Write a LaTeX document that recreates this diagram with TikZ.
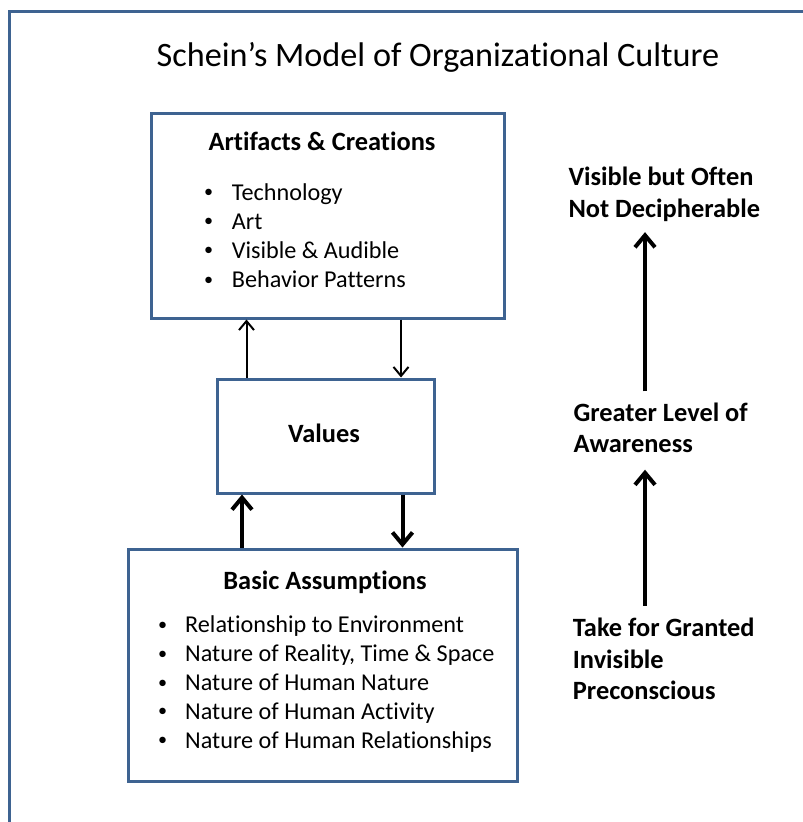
\documentclass[tikz,border=0pt]{standalone}
\usepackage{fontspec}
\setmainfont{Carlito}[Ligatures=NoCommon]
\usetikzlibrary{positioning, arrows.meta, calc}
\definecolor{frameblue}{HTML}{3E6391}
\newcommand{\dotmark}{\raisebox{2.5pt}{\scalebox{0.75}{\textbullet}}}

\begin{document}
\begin{tikzpicture}[x=1pt, y=-1pt,
    layer/.style={draw=frameblue, line width=3pt, fill=white, inner sep=0pt},
    head/.style={font=\fontsize{26.4}{30}\selectfont\bfseries, anchor=base},
    item/.style={font=\fontsize{24.2}{29}\selectfont, anchor=base west, inner sep=0pt},
    side/.style={font=\fontsize{26.4}{31.5}\selectfont\bfseries, align=left, anchor=base west, inner sep=0pt},
    link/.style={-{Straight Barb[length=9pt, width=15pt]}, line width=2pt},
    biglink/.style={-{Straight Barb[length=12pt, width=20pt]}, line width=4pt}]
  \useasboundingbox (0,0) rectangle (803,822);
  % page frame, open to the right and bottom
  \draw[frameblue, line width=3pt] (9,830) -- (9,11) -- (810,11);
  \node[font=\fontsize{34.2}{40}\selectfont, anchor=base] (title) at (438,66.7)
    {Schein's Model of Organizational Culture};

  % the three layers
  \node[layer, minimum width=353pt, minimum height=205pt] (art) at (327.5,215.5) {};
  \node[layer, minimum width=217pt, minimum height=114pt] (val) at (325.5,436) {};
  \node[layer, minimum width=389pt, minimum height=232pt] (bas) at (322.5,665) {};

  \node[head] (arthead) at (322,150.7) {Artifacts \& Creations};
  \foreach \txt [count=\i] in {Technology, Art, Visible \& Audible, Behavior Patterns}
    \node[item] (art\i) at (204,200+29.2*\i-29.2) {\makebox[27.7pt][l]{\dotmark}\txt};

  \node[head] (valhead) at (324,442.7) {Values};

  \node[head] (bashead) at (325,589.3) {Basic Assumptions};
  \foreach \txt [count=\i] in {Relationship to Environment, {Nature of Reality, Time \& Space},
      Nature of Human Nature, Nature of Human Activity, Nature of Human Relationships}
    \node[item] (bas\i) at (158,632.7+28.9*\i-28.9) {\makebox[27pt][l]{\dotmark}\txt};

  % links between the layers
  \draw[link] ([xshift=-79pt]val.north) -- ([xshift=-79pt]val.north |- art.south);
  \draw[link] ([xshift=73.5pt]art.south) -- ([xshift=73.5pt]art.south |- val.north);
  \draw[biglink] ([xshift=-80.5pt]bas.north) -- ([xshift=-80.5pt]bas.north |- val.south);
  \draw[biglink] ([xshift=77pt]val.south) -- ([xshift=77pt]val.south |- bas.north);

  % awareness scale
  \node[side] (visible) at (568.3,217.3) {Visible but Often\\Not Decipherable};
  \node[side] (aware) at (573.3,452.7) {Greater Level of\\Awareness};
  \node[side] (granted) at (572.7,699.7) {Take for Granted\\Invisible\\Preconscious};
  \coordinate (rail) at (645,0);
  \draw[biglink, shorten <=11pt, shorten >=10.5pt] (aware.north -| rail) -- (visible.south -| rail);
  \draw[biglink, shorten <=12pt, shorten >=16.6pt] (granted.north -| rail) -- (aware.south -| rail);
\end{tikzpicture}
\end{document}
